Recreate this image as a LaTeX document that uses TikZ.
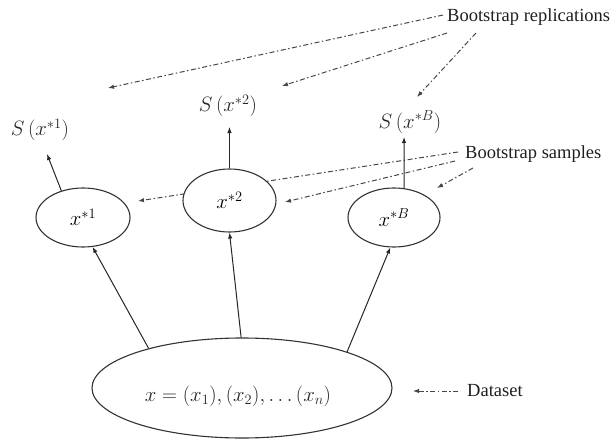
\documentclass[tikz,border=0pt]{standalone}
\usepackage{fontspec}
\setmainfont{Liberation Serif}
\newfontfamily\labfont{Liberation Serif}
\usetikzlibrary{arrows.meta,shapes.geometric}
\begin{document}
\begin{tikzpicture}[x=1pt,y=-1pt,
  lab/.style={font=\labfont\fontsize{18.5}{20}\selectfont, text=black!88, inner sep=0pt, anchor=base west},
  mth/.style={font=\fontsize{21}{23}\selectfont, text=black!85, inner sep=0pt},
  ell/.style={ellipse, draw=black!80, line width=1.1pt, fill=white, inner sep=0pt},
  solidarr/.style={draw=black!85, line width=1pt, -{Latex[length=6pt,width=4.5pt]}},
  dasharr/.style={draw=black!72, line width=1pt, dash pattern=on 5pt off 2.5pt on 1.5pt off 2.5pt, -{Latex[length=6pt,width=4.5pt]}}]
\useasboundingbox (0,0) rectangle (611,439);

% labels
\node[lab] (rep) at (447,21) {Bootstrap replications};
\node[lab] (samp) at (465,158) {Bootstrap samples};
\node[lab] (data) at (467,396) {Dataset};

% free ends of the dash-dotted pointers
\coordinate (r1s) at (443,15);   \coordinate (r1e) at (108,88);
\coordinate (r2s) at (447,33);   \coordinate (r2e) at (282,86);
\coordinate (r3s) at (476,33);   \coordinate (r3e) at (417,97);
\coordinate (s1s) at (458,152);  \coordinate (s1e) at (138,201);
\coordinate (s2s) at (455,161);  \coordinate (s2e) at (285,202);
\coordinate (s3s) at (473,168);  \coordinate (s3e) at (437,188);
\coordinate (ds) at (458,391);   \coordinate (de) at (413,391);

\draw[dasharr] (r1s) -- (r1e);
\draw[dasharr] (r2s) -- (r2e);
\draw[dasharr] (r3s) -- (r3e);
\draw[dasharr] (s1s) -- (s1e);
\draw[dasharr] (s2s) -- (s2e);
\draw[dasharr] (s3s) -- (s3e);
\draw[dasharr] (ds) -- (de);

% statistic labels
\node[mth] (S1) at (40,130) {$S\,(x^{*1})$};
\node[mth] (S2) at (228,106) {$S\,(x^{*2})$};
\node[mth] (SB) at (410,122) {$S\,(x^{*B})$};

% ellipses
\node[ell, minimum width=94pt, minimum height=59pt, font=\fontsize{20}{22}\selectfont] (x1) at (83,217.5) {$x^{*1}$};
\node[ell, minimum width=93pt, minimum height=63pt, font=\fontsize{20}{22}\selectfont] (x2) at (229.5,200.5) {$x^{*2}$};
\node[ell, minimum width=92pt, minimum height=59pt, font=\fontsize{20}{22}\selectfont] (xB) at (394,217.5) {$x^{*B}$};
\node[ell, minimum width=300pt, minimum height=100pt] (d) at (242,388) {};
\node[mth, font=\fontsize{20}{22}\selectfont] (dtext) at (238,396) {$x=(x_1),(x_2),\ldots(x_n)$};

% arrow tips near the statistics
\coordinate (t1) at (47,154);
\coordinate (t2) at (229.5,127);
\coordinate (tB) at (404,137);

\draw[solidarr] (x1.129) -- (t1);
\draw[solidarr] (x2.north) -- (t2);
\draw[solidarr] (xB.71) -- (tB);

\draw[solidarr] (d.157) -- (x1.288);
\draw[solidarr] (d.91) -- (x2.270);
\draw[solidarr] (d.19) -- (xB.263);
\end{tikzpicture}
\end{document}
